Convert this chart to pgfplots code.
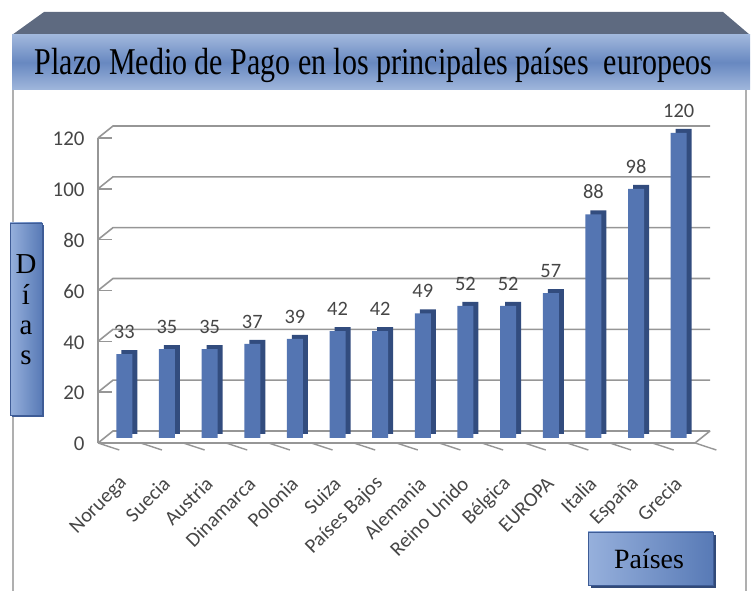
\documentclass[border=0pt]{standalone}
\usepackage{pgfplots}
\pgfplotsset{compat=1.18}
\usepackage{fontspec}
\setmainfont{Liberation Serif}
\newfontfamily\carlito{Carlito}
\definecolor{barfront}{RGB}{84,117,178}
\definecolor{barside}{RGB}{50,76,126}
\definecolor{gridc}{RGB}{150,150,150}
\definecolor{bevel}{RGB}{94,106,128}
\definecolor{bannerlight}{RGB}{160,183,220}
\definecolor{bannermid}{RGB}{104,136,192}
\definecolor{boxlight}{RGB}{150,176,220}
\definecolor{boxdark}{RGB}{88,122,182}
\definecolor{boxedge}{RGB}{62,92,150}
\definecolor{labc}{RGB}{70,70,70}
\definecolor{framec}{RGB}{175,175,175}
\begin{document}
\begin{tikzpicture}[x=1bp,y=1bp]
\useasboundingbox (0,0) rectangle (756,591);
% outer frame
\draw[framec, line width=1.5bp] (13,0) -- (13,501);
\draw[framec, line width=1.5bp] (746,0) -- (746,501);
% title banner
\fill[bevel] (12,556) -- (44,579) -- (723,579) -- (750,556) -- cycle;
\shade[top color=bannerlight, bottom color=bannerlight, middle color=bannermid] (12,501) rectangle (750,556);
\node[anchor=base, inner sep=0pt] at (373.5,516) {\resizebox{677bp}{\height}{\fontsize{38}{38}\selectfont Plazo Medio de Pago en los principales países\ \ europeos}};
% Dias box
\fill[boxedge] (12,174) rectangle (44,366);
\shade[left color=boxlight, right color=boxdark, draw=boxedge] (10,176) rectangle (42,368);
\node[align=center, font=\fontsize{29}{30.5}\selectfont, inner sep=0pt] at (26,281) {D\\í\\a\\s};
% Paises box
\fill[boxedge!80!black] (591,3) rectangle (716,56);
\shade[left color=boxlight, right color=boxdark, draw=boxedge] (588,6) rectangle (713,59);
\node[font=\fontsize{28}{28}\selectfont, inner sep=0pt] at (649,32) {Países};
\begin{axis}[
  at={(103bp,153bp)}, anchor=south west,
  scale only axis, width=597bp, height=305bp,
  xmin=-0.5, xmax=13.5, ymin=0, ymax=120,
  clip=false,
  axis line style={draw=none},
  major tick length=0pt, tick style={draw=none},
  /pgf/number format/assume math mode=true,
  xtick={0,...,13},
  xticklabels={Noruega,Suecia,Austria,Dinamarca,Polonia,Suiza,Países Bajos,Alemania,Reino Unido,Bélgica,EUROPA,Italia,España,Grecia},
  ytick={0,20,40,60,80,100,120},
  yticklabel style={font=\carlito\fontsize{21}{21}\selectfont, text=labc, xshift=-15bp, yshift=-6bp},
  xticklabel style={font=\carlito\fontsize{20.5}{20.5}\selectfont, text=labc, xshift=2bp, yshift=-40bp, rotate=45, anchor=east},
  ybar, bar width=16bp,
]
% back grid and left wall
\pgfplotsinvokeforeach{0,20,40,60,80,100,120}{
  \draw[gridc, line width=1.6bp] ([shift={(-5bp,-5bp)}]axis cs:-0.5,#1) -- ([shift={(10bp,7bp)}]axis cs:-0.5,#1) -- ([shift={(10bp,7bp)}]axis cs:13.5,#1);
  \draw[gridc, line width=1.6bp] ([shift={(-5bp,-5bp)}]axis cs:-0.5,#1) -- ++(-7bp,0);
}
% floor
\draw[gridc, line width=1.6bp] ([shift={(-5bp,-5bp)}]axis cs:-0.5,0) -- ([shift={(-5bp,-5bp)}]axis cs:13.5,0) -- ([shift={(10bp,7bp)}]axis cs:13.5,0);
\draw[gridc, line width=1.6bp] ([shift={(-5bp,-5bp)}]axis cs:-0.5,0) -- ([shift={(-5bp,-5bp)}]axis cs:-0.5,120);
\pgfplotsinvokeforeach{0,...,14}{
  \draw[gridc, line width=1.4bp] ([shift={(-5bp,-5bp)}]axis cs:#1-0.5,0) -- ++(0,-7bp);
}
\addplot[fill=barside, draw=none, bar shift=5bp, yshift=4bp] coordinates {
(0,33) (1,35) (2,35) (3,37) (4,39) (5,42) (6,42) (7,49) (8,52) (9,52) (10,57) (11,88) (12,98) (13,120)};
\addplot[fill=barfront, draw=none, bar shift=0bp, nodes near coords,
  nodes near coords style={font=\carlito\fontsize{20.5}{20.5}\selectfont, text=labc, yshift=12bp}] coordinates {
(0,33) (1,35) (2,35) (3,37) (4,39) (5,42) (6,42) (7,49) (8,52) (9,52) (10,57) (11,88) (12,98) (13,120)};
\end{axis}
\end{tikzpicture}
\end{document}
